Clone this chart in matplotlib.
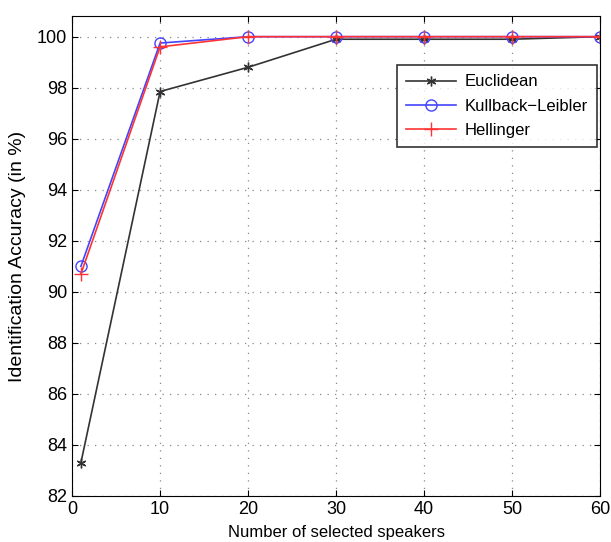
import numpy as np
import matplotlib.pyplot as plt

plt.rcParams['font.family'] = ['Liberation Sans', 'DejaVu Sans']

speakers = [1, 10, 20, 30, 40, 50, 60]
euclidean = [83.3, 97.85, 98.8, 99.9, 99.9, 99.9, 100.0]
kullback = [91.0, 99.75, 100.0, 100.0, 100.0, 100.0, 100.0]
hellinger = [90.7, 99.6, 100.0, 100.0, 100.0, 100.0, 100.0]

fig = plt.figure(figsize=(6.11, 5.42), dpi=100)
ax = fig.add_axes([0.118, 0.085, 0.864, 0.885])

ax.plot(speakers, euclidean, color='#333333', lw=1.2, marker=(6, 2, 0),
        ms=7, mew=1.0, label='Euclidean')
ax.plot(speakers, kullback, color='#4444ff', lw=1.2, marker='o', ms=8,
        mfc='none', mew=1.0, label='Kullback\u2212Leibler')
ax.plot(speakers, hellinger, color='#ff3333', lw=1.2, marker='+', ms=10,
        mew=1.0, label='Hellinger')

ax.set_xlim(0, 60)
ax.set_ylim(82, 100.8)
ax.set_xticks(np.arange(0, 61, 10))
ax.set_yticks(np.arange(82, 101, 2))
ax.tick_params(direction='in', labelsize=13, top=True, right=True, length=4)
ax.grid(True, linestyle=(0, (1, 5)), color='#888888', lw=0.9)

ax.set_xlabel('Number of selected speakers', fontsize=12, labelpad=5)
ax.set_ylabel('Identification Accuracy (in %)', fontsize=14, labelpad=8)

leg = ax.legend(loc='upper right', bbox_to_anchor=(0.994, 0.898), fancybox=False,
                edgecolor='black', fontsize=12, borderaxespad=0, handlelength=3.0,
                labelspacing=0.55, borderpad=0.55, handletextpad=0.5)
leg.get_frame().set_linewidth(1.2)

plt.savefig('out.png')
